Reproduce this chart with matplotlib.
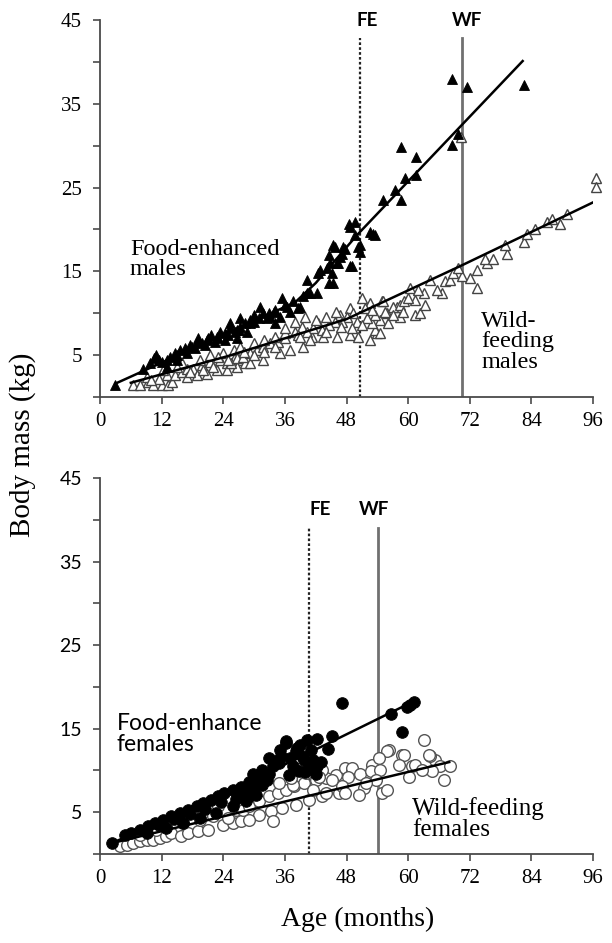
import matplotlib
matplotlib.use("Agg")
import matplotlib.pyplot as plt
import numpy as np

# ---------------- DATA ----------------
x_ticks = [0, 12, 24, 36, 48, 60, 72, 84, 96]
y_major = [5, 15, 25, 35, 45]
y_minor = [0, 10, 20, 30, 40]

# Top panel: males
fe_m_age = [2.9, 8.4, 9.7, 11.0, 11.4, 12.0, 13.0, 13.0, 13.6, 14.6,
            14.9, 15.6, 16.6, 16.9, 17.5, 18.5, 18.8, 19.1, 19.8, 20.4,
            20.8, 21.7, 22.4, 22.7, 23.4, 24.3, 24.3, 25.3, 25.3, 26.3,
            26.6, 26.6, 27.3, 27.3, 28.2, 28.6, 29.2, 29.2, 29.9, 31.2,
            31.8, 32.5, 33.1, 33.8, 34.1, 35.1, 35.4, 36.4, 37.6, 38.6,
            38.9, 39.6, 40.3, 40.3, 40.9, 42.2, 42.5, 42.8, 44.2, 44.5,
            44.5, 44.8, 45.1, 45.4, 45.4, 45.8, 46.1, 46.4, 46.7, 47.1,
            47.4, 47.7, 48.4, 48.7, 48.7, 49.0, 49.7, 49.7, 50.3, 50.6,
            50.6, 52.6, 53.2, 53.5, 55.2, 57.4, 58.6, 58.6, 59.3, 61.5,
            61.5, 68.5, 68.5, 69.8, 71.5, 82.6,
            10.5, 15.0, 18.0, 21.0, 23.0, 25.0, 27.0, 30.0, 31.0, 33.0,
            34.0, 36.0, 37.0]
fe_m_mass = [1.4, 3.4, 4.0, 5.0, 4.4, 4.2, 4.4, 3.6, 4.8, 5.2,
             4.4, 5.6, 5.8, 5.2, 6.2, 5.8, 6.6, 7.0, 6.4, 6.2,
             6.8, 7.4, 6.6, 7.2, 7.8, 7.6, 6.8, 8.2, 8.8, 7.8,
             7.0, 8.0, 8.4, 9.4, 8.8, 7.8, 8.8, 9.2, 9.8, 10.8,
             10.0, 9.4, 9.6, 10.2, 8.8, 9.6, 11.8, 10.8, 11.4, 10.6,
             10.8, 12.0, 12.4, 14.0, 12.4, 12.4, 14.8, 15.2, 15.4, 13.6,
             17.0, 16.0, 14.8, 13.6, 18.1, 17.9, 16.0, 16.0, 16.7, 17.1,
             17.9, 17.7, 20.7, 20.3, 15.6, 15.6, 20.9, 19.3, 17.9, 17.3,
             18.1, 19.7, 19.5, 19.3, 23.5, 24.7, 23.5, 29.8, 26.1, 26.5,
             28.6, 37.9, 30.1, 31.4, 37.0, 37.3,
             4.6, 5.0, 6.0, 7.0, 7.0, 7.4, 8.0, 9.0, 9.4, 10.0,
             10.4, 11.0, 10.2]

wf_m_age = [6.5, 7.8, 9.4, 10.4, 12.0, 13.3, 14.0, 11.4, 13.0, 14.6,
            15.9, 16.9, 18.2, 19.8, 21.4, 23.4, 24.7, 26.3, 27.3, 28.6,
            16.9, 18.8, 20.8, 22.7, 24.7, 26.6, 28.2, 15.9, 12.3, 9.1,
            14.9, 19.5, 21.4, 24.0, 26.0, 27.3,
            25.6, 26.6, 27.9, 29.2, 30.5, 31.8, 33.1, 34.7, 36.0, 38.0,
            39.3, 42.5, 37.0, 39.6, 35.1, 31.8, 29.2, 38.6, 41.2,
            51.0, 52.6, 54.9, 51.6, 48.7, 49.3, 48.0, 46.7, 47.1, 45.8,
            44.5, 43.2, 41.5, 40.3, 38.9, 40.9, 43.5, 46.1, 48.7, 50.3,
            53.9, 54.5, 55.8, 57.8, 58.4,
            52.6, 53.6, 54.5, 52.9, 53.6, 55.5, 55.2, 57.1, 58.4, 59.1,
            61.4, 60.4, 61.4, 62.3, 63.3, 63.0, 64.3, 66.5, 65.6, 67.2,
            68.2, 68.8, 70.4, 69.8, 72.1, 73.4, 73.4, 75.3, 75.0, 76.6,
            79.2, 78.9, 82.5, 83.1, 84.7, 87.0, 88.0, 89.6, 90.9, 96.5,
            96.5, 32.0, 34.0, 36.0, 44.0, 46.0, 50.0, 52.0, 70.2,
            42.0, 44.0, 47.0, 49.0, 51.0, 53.0, 56.0, 57.0, 59.0, 60.0,
            62.0, 38.0, 40.0, 36.0, 34.0,
            10.0, 17.5, 20.0, 22.0, 23.0, 25.0, 28.0, 30.0, 30.0, 32.0]
wf_m_mass = [1.4, 1.4, 1.8, 1.4, 1.4, 1.4, 1.8, 2.2, 2.6, 2.6,
             3.0, 3.4, 3.4, 3.8, 4.2, 4.4, 4.0, 4.8, 4.4, 4.8,
             2.4, 2.6, 2.8, 3.2, 3.2, 3.6, 4.0, 4.0, 3.2, 2.4,
             3.6, 4.4, 5.0, 5.2, 5.6, 6.0,
             4.0, 4.6, 4.8, 5.2, 5.6, 6.0, 6.4, 6.6, 7.0, 7.8,
             8.4, 8.8, 5.6, 6.0, 5.2, 4.4, 4.0, 7.4, 7.2,
             11.8, 11.2, 11.4, 10.6, 10.6, 10.0, 9.6, 9.8, 9.0, 9.0,
             8.6, 8.0, 8.2, 7.8, 7.2, 6.8, 7.2, 7.2, 7.4, 7.2,
             7.6, 9.2, 10.0, 10.8, 9.6,
             6.8, 8.0, 7.6, 8.8, 9.8, 10.2, 11.4, 10.8, 11.0, 11.4,
             11.6, 13.0, 9.8, 10.0, 11.0, 12.4, 14.0, 12.4, 12.8, 13.8,
             14.0, 14.8, 14.4, 15.4, 14.2, 13.0, 15.2, 16.0, 16.5, 16.5,
             17.1, 18.1, 18.5, 19.5, 20.1, 20.9, 21.3, 20.6, 21.8, 26.1,
             25.1, 6.8, 7.2, 7.6, 9.6, 10.2, 9.0, 9.4, 31.0,
             9.2, 7.8, 8.4, 8.2, 8.6, 10.4, 8.8, 9.8, 10.2, 11.8,
             12.8, 9.0, 9.6, 8.2, 6.0,
             2.0, 3.0, 3.2, 3.6, 4.8, 4.4, 5.4, 5.0, 6.4, 5.4]

# fitted growth curves (knots)
fe_m_fit_age = [3, 25, 38, 42, 50, 82.3]
fe_m_fit_mass = [1.6, 7.7, 11.3, 13.6, 19.3, 40.1]
wf_m_fit_age = [6, 25, 48, 70.4, 95.9]
wf_m_fit_mass = [1.7, 4.9, 9.3, 15.7, 23.2]

# Bottom panel: females
fe_f_age = [2.3, 4.8, 6.1, 7.8, 9.4, 10.7, 12.3, 13.9, 15.5, 17.1,
            18.8, 20.0, 21.7, 23.0, 24.2, 25.9, 27.5, 29.1, 30.4, 29.7,
            9.1, 12.9, 16.2, 19.4, 22.6, 25.9, 28.5,
            26.8, 27.8, 28.5, 29.1, 29.7, 29.7, 30.4, 31.0, 32.9, 33.6,
            34.3, 34.9, 35.2, 36.2, 36.2, 36.8, 37.5, 38.1, 38.4, 38.8,
            39.4, 39.8, 40.4, 40.7, 41.4, 42.3, 42.3, 44.3, 45.2, 47.2,
            56.6, 58.8, 59.8, 60.4, 61.1,
            11.5, 14.5, 17.5, 20.5, 23.5, 26.5, 31.5, 32.5,
            31.5, 33.0, 35.0, 37.0, 39.0, 41.0, 43.0, 40.0, 42.0]
fe_f_mass = [1.3, 2.3, 2.5, 2.9, 3.3, 3.7, 4.1, 4.5, 4.9, 5.3,
             5.7, 6.1, 6.5, 6.9, 7.3, 7.7, 8.0, 8.6, 9.2, 9.6,
             2.5, 3.1, 3.7, 4.3, 4.9, 5.7, 6.3,
             7.7, 6.9, 8.0, 6.9, 8.6, 7.5, 7.1, 9.0, 9.6, 10.5,
             11.1, 10.9, 11.7, 13.5, 13.3, 9.4, 10.5, 12.3, 12.7, 9.9,
             11.7, 11.2, 13.6, 10.5, 11.3, 13.8, 10.5, 12.6, 14.1, 18.1,
             16.8, 14.6, 17.6, 17.8, 18.2,
             3.5, 4.2, 4.8, 5.4, 6.2, 6.6, 8.2, 8.8,
             10.0, 11.5, 12.5, 11.5, 13.0, 12.4, 11.0, 9.8, 9.6]

wf_f_age = [3.9, 5.2, 6.5, 7.8, 9.1, 10.3, 11.6, 12.9, 13.9, 15.8,
            17.1, 19.1, 21.0, 23.9, 25.9, 27.5, 24.9, 23.0, 26.5, 12.9,
            16.2, 19.4, 22.0, 11.0, 7.8,
            27.8, 29.1, 31.0, 33.0, 34.6, 36.2, 37.8, 39.8, 42.0, 44.0,
            45.9, 47.8, 49.1, 53.0, 31.0, 33.3, 35.5, 38.1, 40.7, 43.3,
            46.5, 29.1, 33.6, 37.5, 40.1, 43.3, 37.2, 34.9, 51.4, 55.0,
            60.8, 65.3, 56.2, 58.8, 63.0, 64.3,
            55.9, 54.3, 59.2, 49.1, 48.2, 50.7, 52.7, 54.6, 53.7, 55.9,
            58.2, 60.1, 61.4, 64.0, 66.3, 68.2, 66.9, 64.6, 62.7, 47.2,
            45.2, 44.0, 42.7, 41.4, 50.4, 47.8, 51.7]
wf_f_mass = [0.9, 1.1, 1.3, 1.5, 1.7, 1.7, 1.9, 2.1, 2.5, 2.1,
             2.5, 2.7, 2.9, 3.5, 3.7, 3.9, 4.3, 5.7, 5.3, 3.5,
             3.7, 4.1, 4.5, 2.9, 2.3,
             5.3, 5.7, 6.3, 6.9, 7.3, 7.7, 8.1, 8.5, 8.9, 9.1,
             9.5, 10.3, 9.9, 10.7, 4.7, 5.1, 5.5, 5.9, 6.5, 6.9,
             7.3, 4.1, 3.9, 8.3, 9.7, 10.1, 9.1, 8.5, 7.9, 7.3,
             10.5, 11.3, 12.4, 11.9, 13.7, 11.7,
             12.3, 11.5, 11.9, 10.3, 9.2, 9.6, 9.9, 10.1, 8.9, 7.7,
             10.7, 9.2, 10.7, 11.9, 10.5, 10.5, 8.9, 9.9, 10.1, 8.1,
             8.9, 7.3, 9.2, 7.7, 7.1, 7.3, 8.5]

fe_f_fit_age = [2, 37, 61.5]
fe_f_fit_mass = [1.2, 11.0, 18.4]
wf_f_fit_age = [3, 68]
wf_f_fit_mass = [1.4, 11.0]

# reference ages (vertical lines)
males_fe_age, males_wf_age = 50.6, 70.5
females_fe_age, females_wf_age = 40.7, 54.1

# ---------------- FIGURE ----------------
SERIF = ["Liberation Serif", "DejaVu Serif"]
SANS = ["Lato", "DejaVu Sans"]

fig = plt.figure(figsize=(6.12, 9.43), dpi=100)
ax1 = fig.add_axes([0.1634, 0.579, 0.8056, 0.3998])
ax2 = fig.add_axes([0.1634, 0.0944, 0.8056, 0.3987])

axis_col = "#4a4a4a"
for ax in (ax1, ax2):
    ax.set_xlim(0, 96)
    ax.set_ylim(0, 45)
    for s in ("top", "right"):
        ax.spines[s].set_visible(False)
    for s in ("left", "bottom"):
        ax.spines[s].set_color(axis_col)
        ax.spines[s].set_linewidth(1.3)
    ax.set_xticks(x_ticks)
    ax.set_yticks(y_major)
    ax.set_yticks(y_minor, minor=True)
    ax.tick_params(axis="both", which="both", direction="out", color=axis_col,
                   width=1.2, length=5)
    ax.tick_params(axis="y", which="minor", labelleft=False)
    ax.tick_params(axis="x", pad=6)
    ax.tick_params(axis="y", pad=8)
    for lab in ax.get_xticklabels():
        lab.set_fontfamily(SERIF)
        lab.set_fontsize(15)

for lab in ax1.get_yticklabels():
    lab.set_fontfamily(SERIF)
    lab.set_fontsize(15)
for lab in ax2.get_yticklabels():
    lab.set_fontfamily(SANS)
    lab.set_fontsize(14)

tri_ms = 7.0
circ_ms = 8.4

# ---- males ----
ax1.plot(wf_m_age, wf_m_mass, linestyle="none", marker="^", ms=tri_ms,
         mfc="white", mec="#444444", mew=1.0, clip_on=False, zorder=3)
ax1.plot(fe_m_age, fe_m_mass, linestyle="none", marker="^", ms=tri_ms,
         mfc="black", mec="black", mew=0.6, clip_on=False, zorder=4)
ax1.plot(fe_m_fit_age, fe_m_fit_mass, color="black", lw=1.8, zorder=5)
ax1.plot(wf_m_fit_age, wf_m_fit_mass, color="black", lw=1.8, zorder=5)
ax1.plot([males_fe_age, males_fe_age], [0, 42.8], color="#222222", lw=1.6,
         linestyle=(0, (1.2, 1.0)), zorder=2)
ax1.plot([males_wf_age, males_wf_age], [0, 42.8], color="#707070", lw=2.0, zorder=2)
ax1.text(males_fe_age + 1.4, 44.9, "FE", family=SANS, weight="bold", fontsize=13.5,
         ha="center", va="center")
ax1.text(males_wf_age + 1.0, 44.9, "WF", family=SANS, weight="bold", fontsize=13.5,
         ha="center", va="center")
ax1.text(5.8, 16.4, "Food-enhanced\nmales", family=SERIF, fontsize=17.5,
         ha="left", va="center", linespacing=0.95)
ax1.text(74.2, 6.6, "Wild-\nfeeding\nmales", family=SERIF, fontsize=17.5,
         ha="left", va="center", linespacing=0.98)

# ---- females ----
ax2.plot(wf_f_age, wf_f_mass, linestyle="none", marker="o", ms=circ_ms,
         mfc="white", mec="#555555", mew=1.0, zorder=3)
ax2.plot(fe_f_age, fe_f_mass, linestyle="none", marker="o", ms=circ_ms,
         mfc="black", mec="black", mew=0.6, zorder=4)
ax2.plot(fe_f_fit_age, fe_f_fit_mass, color="black", lw=1.8, zorder=5)
ax2.plot(wf_f_fit_age, wf_f_fit_mass, color="black", lw=1.8, zorder=5)
ax2.plot([females_fe_age, females_fe_age], [0, 39.0], color="#222222", lw=1.6,
         linestyle=(0, (1.2, 1.0)), zorder=2)
ax2.plot([females_wf_age, females_wf_age], [0, 39.0], color="#707070", lw=2.0, zorder=2)
ax2.text(females_fe_age + 2.2, 41.2, "FE", family=SANS, weight="bold", fontsize=13.5,
         ha="center", va="center")
ax2.text(females_wf_age - 0.8, 41.2, "WF", family=SANS, weight="bold", fontsize=13.5,
         ha="center", va="center")
ax2.text(3.3, 14.4, "Food-enhance\nfemales", family=SANS, fontsize=16.5,
         ha="left", va="center", linespacing=1.0)
ax2.text(60.8, 4.2, "Wild-feeding\nfemales", family=SERIF, fontsize=18,
         ha="left", va="center", linespacing=0.95)

# axis labels
fig.text(0.036, 0.528, "Body mass (kg)", family=SERIF, fontsize=21,
         rotation=90, ha="center", va="center")
fig.text(0.585, 0.025, "Age (months)", family=SERIF, fontsize=20,
         ha="center", va="center")

fig.savefig("out.png", dpi=100)
